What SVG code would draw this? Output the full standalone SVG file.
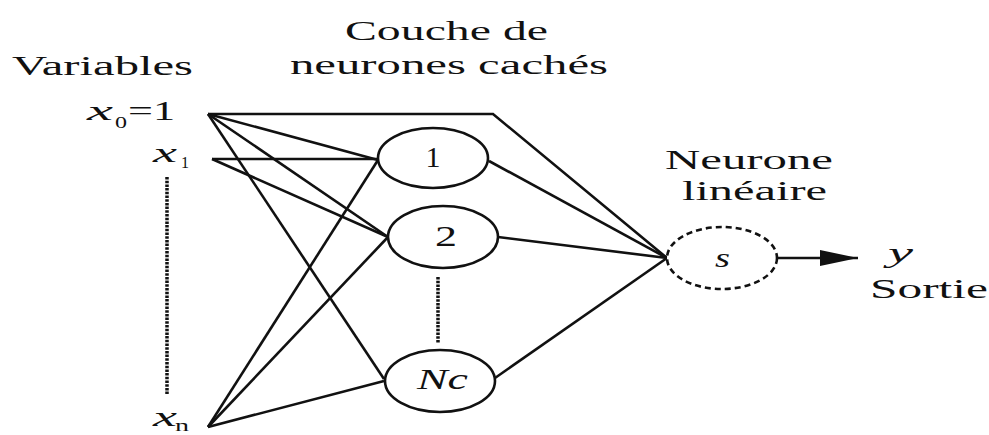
<svg xmlns="http://www.w3.org/2000/svg" width="989" height="435" viewBox="0 0 989 435">
<style>
.t{font-family:"Liberation Serif","DejaVu Serif","Times New Roman",serif;fill:#111;font-size:27px}
.i{font-style:italic}
.sub{font-size:17px}
.big{font-size:30px}
.e{fill:#fff;stroke:#111;stroke-width:2.6}
.c line,.c polyline{stroke:#111;stroke-width:2.6;fill:none}
.c line.dot{stroke:#111;stroke-width:3.5;stroke-dasharray:2.5 1.2;fill:none}
</style>
<defs>
<marker id="ah" markerUnits="userSpaceOnUse" markerWidth="40" markerHeight="18" refX="38" refY="8" orient="auto">
<path d="M0,0 L38,8 L0,16 Z" fill="#111"/>
</marker>
</defs>
<rect width="989" height="435" fill="#fff"/>
<g id="titles">
<text class="t" x="12" y="75" textLength="181" lengthAdjust="spacingAndGlyphs">Variables</text>
<text class="t" x="345" y="40" textLength="203" lengthAdjust="spacingAndGlyphs">Couche de</text>
<text class="t" x="290" y="74" textLength="318" lengthAdjust="spacingAndGlyphs">neurones cachés</text>
<text class="t" x="665" y="169" textLength="168" lengthAdjust="spacingAndGlyphs">Neurone</text>
<text class="t" x="682" y="200" textLength="145" lengthAdjust="spacingAndGlyphs">linéaire</text>
<text class="t" x="870" y="298" textLength="118" lengthAdjust="spacingAndGlyphs">Sortie</text>
</g>
<g id="connectors" class="c">
<polyline points="208,114 493,114 667,258"/>
<line x1="208" y1="114" x2="378" y2="160"/>
<line x1="208" y1="114" x2="388" y2="237"/>
<line x1="208" y1="114" x2="384" y2="379"/>
<line x1="212" y1="159" x2="378" y2="159"/>
<line x1="212" y1="159" x2="388" y2="237"/>
<line x1="208" y1="427" x2="378" y2="160"/>
<line x1="208" y1="427" x2="388" y2="237"/>
<line x1="208" y1="427" x2="384" y2="381"/>
<line x1="489" y1="161" x2="667" y2="258"/>
<line x1="498" y1="237" x2="667" y2="258"/>
<line x1="495" y1="378" x2="667" y2="258"/>
<line x1="778" y1="258" x2="858" y2="258" marker-end="url(#ah)"/>
<line class="dot" x1="167" y1="177" x2="167" y2="395"/>
<line class="dot" x1="438" y1="277" x2="438" y2="343"/>
</g>
<g id="x0">
<text class="t i" x="87" y="120" textLength="26" lengthAdjust="spacingAndGlyphs">x</text>
<text class="t sub" x="115" y="128" textLength="12" lengthAdjust="spacingAndGlyphs">0</text>
<text class="t" x="128" y="120" textLength="47" lengthAdjust="spacingAndGlyphs">=1</text>
</g>
<g id="x1">
<text class="t i" x="153" y="162" textLength="24" lengthAdjust="spacingAndGlyphs">x</text>
<text class="t sub" x="181" y="168" textLength="8" lengthAdjust="spacingAndGlyphs">1</text>
</g>
<g id="xn">
<text class="t i" x="153" y="426" textLength="24" lengthAdjust="spacingAndGlyphs">x</text>
<text class="t sub" x="175" y="431" textLength="14" lengthAdjust="spacingAndGlyphs">n</text>
</g>
<g id="n1">
<ellipse class="e" cx="433" cy="158" rx="55" ry="30"/>
<text class="t big" x="433" y="167" text-anchor="middle">1</text>
</g>
<g id="n2">
<ellipse class="e" cx="443" cy="237" rx="55" ry="31"/>
<text class="t big" x="446" y="246" text-anchor="middle" textLength="22" lengthAdjust="spacingAndGlyphs">2</text>
</g>
<g id="nc">
<ellipse class="e" cx="440" cy="381" rx="55" ry="31"/>
<text class="t i big" x="417" y="389" textLength="51" lengthAdjust="spacingAndGlyphs">Nc</text>
</g>
<g id="s">
<ellipse cx="722" cy="258" rx="55" ry="31" fill="#fff" stroke="#111" stroke-width="2.6" stroke-dasharray="6 4"/>
<text class="t i" x="715" y="267" textLength="15" lengthAdjust="spacingAndGlyphs">s</text>
</g>
<g id="y">
<text class="t i" x="888" y="262" textLength="25" lengthAdjust="spacingAndGlyphs">y</text>
</g>
</svg>
